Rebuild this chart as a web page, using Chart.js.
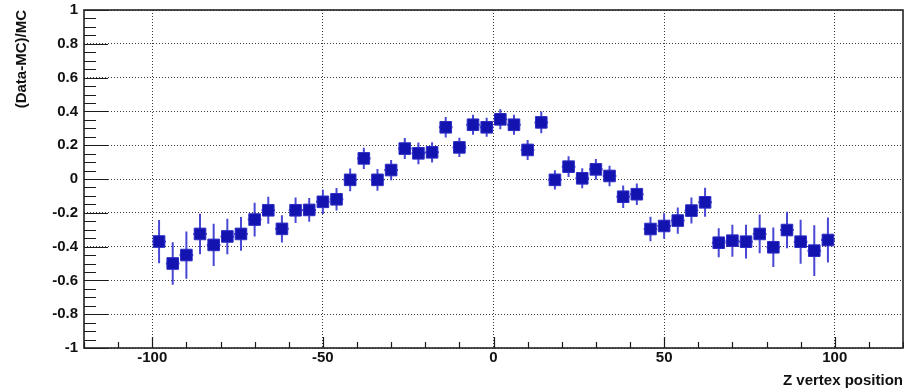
<!DOCTYPE html>
<html>
<head>
<meta charset="utf-8">
<title>(Data-MC)/MC vs Z vertex position</title>
<script src="https://cdn.jsdelivr.net/npm/chart.js@4.4.1/dist/chart.umd.min.js"></script>
<style>
  html, body { margin: 0; padding: 0; background: #ffffff; }
  canvas { display: block; }
</style>
</head>
<body>
<canvas id="c" width="904" height="392"></canvas>
<script>
// Bin centres of the Z vertex histogram (4 cm bins from -100 to 100)
const zCenters = [
  -98, -94, -90, -86, -82, -78, -74, -70, -66, -62,
  -58, -54, -50, -46, -42, -38, -34, -30, -26, -22,
  -18, -14, -10, -6, -2, 2, 6, 10, 14, 18,
  22, 26, 30, 34, 38, 42, 46, 50, 54, 58,
  62, 66, 70, 74, 78, 82, 86, 90, 94, 98
];
// Relative difference (Data-MC)/MC per bin
const ratio = [
  -0.370, -0.500, -0.450, -0.325, -0.390, -0.340, -0.325, -0.240, -0.185, -0.295,
  -0.185, -0.183, -0.135, -0.120, -0.005, 0.122, -0.005, 0.053, 0.180, 0.152,
  0.158, 0.306, 0.187, 0.321, 0.306, 0.353, 0.321, 0.172, 0.335, -0.005,
  0.073, 0.004, 0.057, 0.018, -0.105, -0.090, -0.296, -0.278, -0.246, -0.187,
  -0.138, -0.377, -0.365, -0.371, -0.325, -0.404, -0.302, -0.371, -0.424, -0.361
];
// Statistical uncertainty on each bin
const ratioErr = [
  0.128, 0.126, 0.140, 0.120, 0.125, 0.105, 0.100, 0.100, 0.080, 0.080,
  0.075, 0.070, 0.072, 0.067, 0.067, 0.063, 0.064, 0.060, 0.062, 0.064,
  0.060, 0.061, 0.057, 0.059, 0.056, 0.059, 0.059, 0.059, 0.064, 0.057,
  0.061, 0.059, 0.061, 0.061, 0.066, 0.064, 0.072, 0.076, 0.078, 0.077,
  0.086, 0.086, 0.095, 0.100, 0.115, 0.117, 0.108, 0.130, 0.150, 0.133
];
const binHalfWidth = 2;

// Axis ticks and their labels
const xTickValues = [-100, -50, 0, 50, 100];
const xTickLabels = ['-100', '-50', '0', '50', '100'];
const yTickValues = [-1, -0.8, -0.6, -0.4, -0.2, 0, 0.2, 0.4, 0.6, 0.8, 1];
const yTickLabels = ['-1', '-0.8', '-0.6', '-0.4', '-0.2', '0', '0.2', '0.4', '0.6', '0.8', '1'];
const xMinorStep = 10;
const yMinorStep = 0.05;

const points = zCenters.map((z, i) => ({ x: z, y: ratio[i], err: ratioErr[i] }));

const labelFont = { family: '"Liberation Sans", Arial, Helvetica, sans-serif', size: 15, weight: 'bold' };
const inkColor = '#111111';

// Error bars drawn underneath the markers
const errorBars = {
  id: 'errorBars',
  beforeDatasetsDraw(chart) {
    const { ctx, scales: { x, y } } = chart;
    const ds = chart.data.datasets[0].data;
    ctx.save();
    ctx.strokeStyle = '#4848d4';
    ctx.lineWidth = 2;
    ctx.beginPath();
    ds.forEach(p => {
      const px = x.getPixelForValue(p.x);
      const py = y.getPixelForValue(p.y);
      ctx.moveTo(px, y.getPixelForValue(p.y - p.err));
      ctx.lineTo(px, y.getPixelForValue(p.y + p.err));
      ctx.moveTo(x.getPixelForValue(p.x - binHalfWidth), py);
      ctx.lineTo(x.getPixelForValue(p.x + binHalfWidth), py);
    });
    ctx.stroke();
    ctx.restore();
  }
};

// Frame and inward tick marks
const frameTicks = {
  id: 'frameTicks',
  afterDatasetsDraw(chart) {
    const { ctx, chartArea: a, scales: { x, y } } = chart;
    ctx.save();
    ctx.strokeStyle = '#1a1a1a';
    ctx.lineWidth = 1.2;
    ctx.beginPath();
    // left axis ticks
    const yMin = y.min, yMax = y.max;
    const nY = Math.round((yMax - yMin) / yMinorStep);
    for (let i = 0; i <= nY; i++) {
      const v = yMin + i * yMinorStep;
      const py = Math.round(y.getPixelForValue(v)) + 0.5;
      const major = i % 4 === 0;
      ctx.moveTo(a.left, py);
      ctx.lineTo(a.left + (major ? 24 : 12), py);
    }
    // bottom axis ticks
    const startX = Math.ceil(x.min / xMinorStep) * xMinorStep;
    for (let v = startX; v <= x.max; v += xMinorStep) {
      const px = Math.round(x.getPixelForValue(v)) + 0.5;
      const major = v % 50 === 0;
      ctx.moveTo(px, a.bottom);
      ctx.lineTo(px, a.bottom - (major ? 11 : 6));
    }
    ctx.stroke();
    ctx.lineWidth = 1.6;
    ctx.strokeStyle = '#222222';
    ctx.strokeRect(a.left, a.top, a.right - a.left, a.bottom - a.top);
    ctx.restore();
  }
};

new Chart(document.getElementById('c'), {
  type: 'scatter',
  data: {
    datasets: [{
      label: '(Data-MC)/MC',
      data: points,
      pointStyle: 'rect',
      pointRadius: 8.2,
      pointHoverRadius: 8.2,
      backgroundColor: '#1313b0',
      borderColor: '#2c2cc4',
      borderWidth: 1,
      showLine: false
    }]
  },
  options: {
    responsive: false,
    animation: false,
    devicePixelRatio: 1,
    layout: { autoPadding: false, padding: { top: 10, right: 1, left: 0, bottom: 0 } },
    plugins: { legend: { display: false }, tooltip: { enabled: false } },
    scales: {
      x: {
        type: 'linear',
        min: -120,
        max: 120,
        afterBuildTicks: s => { s.ticks = xTickValues.map(v => ({ value: v })); },
        afterFit: s => { s.height = 44; s.paddingLeft = 0; s.paddingRight = 0; },
        ticks: {
          font: labelFont,
          color: inkColor,
          padding: 1,
          maxRotation: 0,
          callback: (v, i) => xTickLabels[i]
        },
        grid: { color: '#3a3a3a', lineWidth: 1, drawTicks: false },
        border: { display: false, dash: [1, 2] },
        title: {
          display: true,
          text: 'Z vertex position',
          align: 'end',
          font: labelFont,
          color: inkColor,
          padding: { top: 0, bottom: 2 }
        }
      },
      y: {
        type: 'linear',
        min: -1,
        max: 1,
        afterBuildTicks: s => { s.ticks = yTickValues.map(v => ({ value: v })); },
        afterFit: s => { s.width = 84; s.paddingTop = 0; s.paddingBottom = 0; },
        ticks: {
          font: labelFont,
          color: inkColor,
          padding: 6,
          callback: (v, i) => yTickLabels[i]
        },
        grid: { color: '#3a3a3a', lineWidth: 1, drawTicks: false },
        border: { display: false, dash: [1, 2] },
        title: {
          display: true,
          text: '(Data-MC)/MC',
          align: 'end',
          font: labelFont,
          color: inkColor,
          padding: { top: 13, bottom: 0 }
        }
      }
    }
  },
  plugins: [errorBars, frameTicks]
});
</script>
</body>
</html>
